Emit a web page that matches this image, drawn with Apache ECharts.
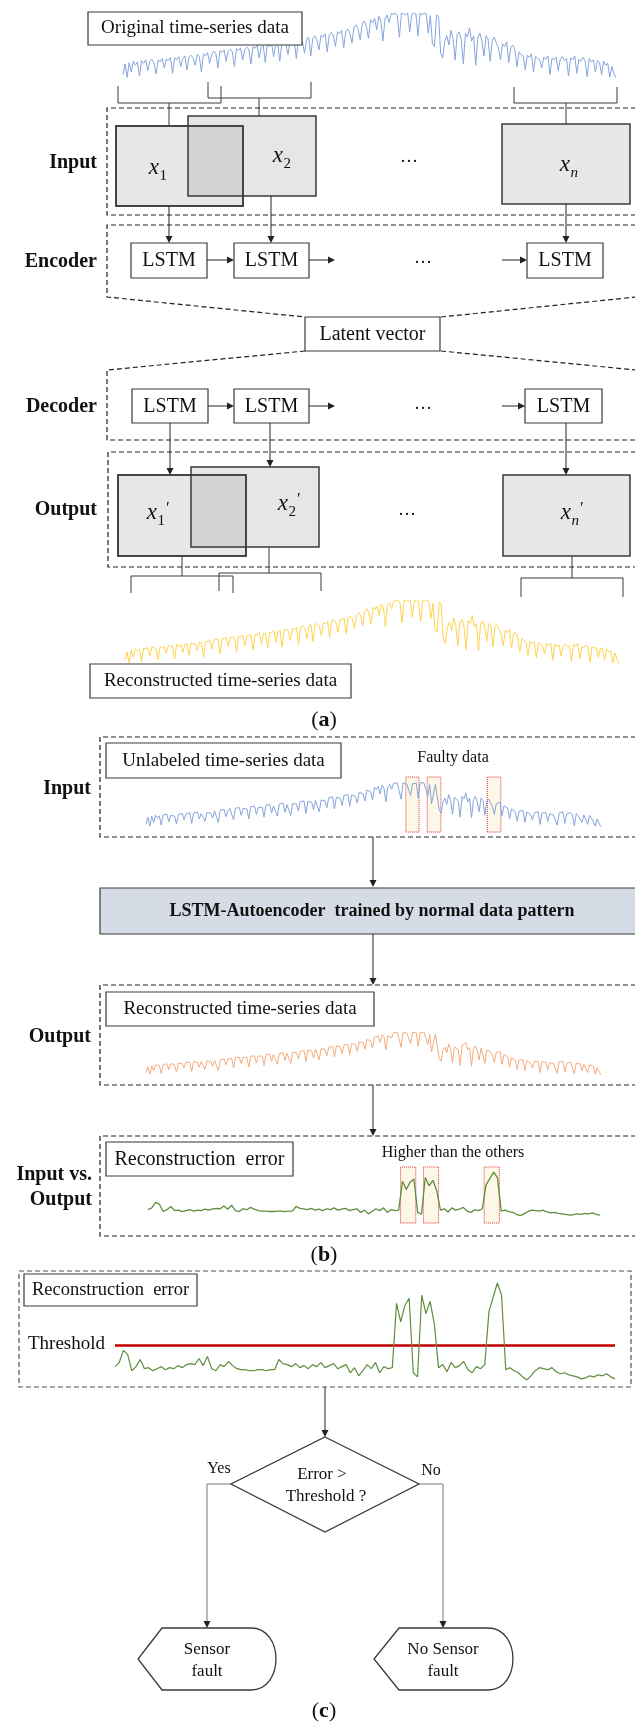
<!DOCTYPE html>
<html><head><meta charset="utf-8">
<script src="https://cdn.jsdelivr.net/npm/echarts@6/dist/echarts.min.js"></script>
<style>html,body{margin:0;padding:0;background:#fff}#c{width:635px;height:1725px}</style>
</head><body><div id="c"></div>
<script>
// ---------- DATA ----------
const signalOriginal = [
 8,24,4,26,12,28,22,27,6,29,
 25,30,14,28,31,26,9,30,27,32,
 18,31,29,34,10,33,30,35,20,32,
 36,15,34,37,33,22,38,35,12,39,
 36,41,25,38,43,40,18,44,41,45,
 28,43,46,42,20,47,44,48,30,45,
 49,46,24,50,47,52,33,49,51,26,
 53,50,55,35,52,56,28,54,57,53,
 38,58,55,60,32,59,62,57,40,61,
 64,36,62,66,60,45,67,64,69,42,
 68,71,66,50,72,69,74,48,73,76,
 70,55,79,82,76,60,84,88,80,62,
 90,85,92,75,95,88,58,91,97,86,
 99,98,100,96,64,100,99,97,100,72,
 98,100,99,66,100,97,100,99,70,96,
 54,50,97,95,40,33,58,66,52,74,
 62,30,68,72,60,24,70,64,78,58,
 66,22,63,70,58,36,66,61,28,59,
 64,55,48,30,54,50,57,26,49,52,
 44,20,42,38,36,15,37,34,39,12,
 35,32,30,18,34,31,36,8,33,30,
 34,14,31,35,29,32,6,33,30,36,
 10,31,28,34,29,5,32,27,30,12,
 29,26,8,28,22,25,4,20,10,3
];
const signalReconstructed = [
 10,22,6,25,14,27,24,26,8,28,
 27,29,16,30,29,27,11,31,28,30,
 20,33,30,32,12,34,31,33,22,34,
 35,17,36,35,34,24,37,36,14,38,
 38,40,27,40,42,41,20,43,42,44,
 30,44,45,43,22,46,45,47,32,46,
 48,47,26,49,48,51,35,50,50,28,
 52,51,54,37,53,55,30,55,56,54,
 40,57,56,59,34,60,61,58,42,62,
 63,38,63,65,61,47,66,65,68,44,
 69,70,67,52,71,70,73,50,74,75,
 72,57,78,81,77,62,83,87,81,64,
 89,86,91,77,94,89,60,92,96,87,
 98,99,100,97,66,99,100,98,99,74,
 99,100,98,68,99,98,100,98,72,95,
 56,52,96,94,42,35,60,67,54,73,
 63,32,67,71,61,26,69,65,77,60,
 65,24,64,69,59,38,65,62,30,60,
 63,56,49,32,55,51,56,28,50,51,
 45,22,43,39,37,17,38,35,38,14,
 36,33,31,20,35,32,35,10,34,31,
 33,16,32,34,30,31,8,34,31,35,
 12,30,29,33,30,7,31,28,29,14,
 28,27,10,27,23,24,6,21,12,5
];
const reconError = [
 18,22,34,30,14,18,25,16,17,14,
 16,18,15,17,16,19,17,20,21,20,
 26,19,28,16,14,20,18,23,19,16,
 15,15,14,14,15,15,14,15,15,25,
 21,20,18,21,17,19,16,20,18,22,
 17,19,21,16,18,20,12,17,9,14,
 20,16,22,12,18,16,17,80,62,78,
 85,12,8,88,70,82,60,17,20,13,
 22,17,19,23,15,12,18,16,20,72,
 86,100,88,15,17,14,12,8,5,9,
 14,17,16,15,17,13,11,12,10,9,
 8,6,7,9,8,10,9,11,8,6
];
const inputFaultRanges = [[136.5,143.4],[147.7,154.9],[179.3,186.4]];
const errorFaultRanges = [[66.5,70.5],[72.5,76.5],[88.5,92.5]];
const threshold = 39;

// ---------- HELPERS ----------
const SERIF = '"Liberation Serif","Times New Roman","DejaVu Serif",serif';
const G = [];
function txt(x, y, text, size, o) {
  o = o || {};
  G.push({type:'text', z:30, style:{x:x, y:y, text:text, fontSize:size, fontFamily:SERIF,
    fontWeight:o.bold?'bold':'normal', fontStyle:o.italic?'italic':'normal',
    fill:'#111', align:o.align||'center', verticalAlign:'middle'}});
}
function rect(x, y, w, h, fill, o) {
  o = o || {};
  G.push({type:'rect', z:o.z||20, shape:{x:x, y:y, width:w, height:h},
    style:{fill:fill, stroke:o.stroke||'#3a3a3a', lineWidth:o.lw||1.2}});
}
function poly(points, o) {
  o = o || {};
  G.push({type:'polyline', z:o.z||20, shape:{points:points},
    style:{stroke:o.color||'#3a3a3a', lineWidth:o.lw||1, lineDash:o.dash?[5,3]:null, fill:null}});
}
function head(x, y, dir, color) {
  const s = 7, w = 3.5;
  let pts;
  if (dir === 'down') pts = [[x-w,y-s],[x+w,y-s],[x,y]];
  else pts = [[x-s,y-w],[x-s,y+w],[x,y]];
  G.push({type:'polygon', z:21, shape:{points:pts}, style:{fill:color||'#222', stroke:null}});
}
function arrowDown(x, y1, y2, color) { poly([[x,y1],[x,y2-6]], {color:color||'#222', lw:1}); head(x, y2, 'down', color); }
function arrowRight(x1, x2, y) { poly([[x1,y],[x2-6,y]], {color:'#222', lw:1}); head(x2, y, 'right'); }
function mathLabel(xr, ym, sub, prime) {
  txt(xr, ym, 'x', 23, {italic:true, align:'right'});
  txt(xr+0.5, ym+8, sub, 15, {italic: sub==='n', align:'left'});
  if (prime) txt(xr+9, ym-4, '\u2032', 17, {align:'left'});
}
function xbox(x, y, w, h, fill) { rect(x, y, w, h, fill, {lw:1.5}); }
function displayShape(xl, xa, xb, xr, yt, yb) {
  const ym = (yt + yb) / 2;
  poly([[xb,yt],[xa,yt],[xl,ym],[xa,yb],[xb,yb]], {lw:1.3});
  G.push({type:'bezierCurve', z:20, shape:{x1:xb, y1:yt, x2:xb, y2:yb,
    cpx1:xb + (xr-xb)*1.33, cpy1:yt, cpx2:xb + (xr-xb)*1.33, cpy2:yb},
    style:{stroke:'#3a3a3a', lineWidth:1.3, fill:null}});
}

// ---------- SECTION (a) ----------
rect(88, 12, 214, 33, '#fff');
txt(195, 28.5, 'Original time-series data', 19);
poly([[118,86],[118,103],[221,103],[221,86]]); poly([[169,103],[169,126]]);
poly([[208,82],[208,98],[311,98],[311,82]]); poly([[259,98],[259,116]]);
poly([[514,87],[514,103],[617,103],[617,87]]); poly([[566,103],[566,124]]);
poly([[636,108],[107,108],[107,215],[636,215]], {dash:true, color:'#222', lw:1.2});
G.push({type:'rect', z:20, shape:{x:116,y:126,width:127,height:80}, style:{fill:'#e7e7e7', stroke:'#3a3a3a', lineWidth:1.5}});
G.push({type:'rect', z:20, shape:{x:188,y:116,width:128,height:80}, style:{fill:'rgba(140,140,140,0.22)', stroke:'#3a3a3a', lineWidth:1.5}});
G.push({type:'rect', z:20, shape:{x:116,y:126,width:127,height:80}, style:{fill:null, stroke:'#3a3a3a', lineWidth:1.5}});
xbox(502, 124, 128, 80, '#e7e7e7');
txt(97, 163, 'Input', 20, {bold:true, align:'right'});
mathLabel(159, 168, '1'); mathLabel(283, 156, '2'); mathLabel(570, 165, 'n');
txt(409, 157, '\u2026', 18);
arrowDown(169, 206, 243); arrowDown(271, 196, 243); arrowDown(566, 204, 243);

poly([[636,225],[107,225],[107,297],[305,317]], {dash:true, color:'#222', lw:1.2});
poly([[441,317],[636,297]], {dash:true, color:'#222', lw:1.2});
rect(131, 243, 76, 35, '#fff'); txt(169, 261, 'LSTM', 20);
rect(234, 243, 75, 35, '#fff'); txt(271.5, 261, 'LSTM', 20);
rect(527, 243, 76, 35, '#fff'); txt(565, 261, 'LSTM', 20);
arrowRight(207, 234, 260); arrowRight(309, 335, 260); arrowRight(502, 527, 260);
txt(423, 258, '\u2026', 18);
txt(97, 262, 'Encoder', 20, {bold:true, align:'right'});
rect(305, 317, 135, 34, '#fff'); txt(372.5, 334.5, 'Latent vector', 20);

poly([[305,351],[107,370],[107,440],[636,440]], {dash:true, color:'#222', lw:1.2});
poly([[441,351],[636,370]], {dash:true, color:'#222', lw:1.2});
rect(132, 389, 76, 34, '#fff'); txt(170, 406.5, 'LSTM', 20);
rect(234, 389, 75, 34, '#fff'); txt(271.5, 406.5, 'LSTM', 20);
rect(525, 389, 77, 34, '#fff'); txt(563.5, 406.5, 'LSTM', 20);
arrowRight(208, 234, 406); arrowRight(309, 335, 406); arrowRight(502, 525, 406);
txt(423, 404, '\u2026', 18);
txt(97, 407, 'Decoder', 20, {bold:true, align:'right'});
arrowDown(170, 423, 475); arrowDown(270, 423, 467); arrowDown(566, 423, 475);

poly([[636,452],[108,452],[108,567],[636,567]], {dash:true, color:'#222', lw:1.2});
G.push({type:'rect', z:20, shape:{x:118,y:475,width:128,height:81}, style:{fill:'#e7e7e7', stroke:'#3a3a3a', lineWidth:1.5}});
G.push({type:'rect', z:20, shape:{x:191,y:467,width:128,height:80}, style:{fill:'rgba(140,140,140,0.22)', stroke:'#3a3a3a', lineWidth:1.5}});
G.push({type:'rect', z:20, shape:{x:118,y:475,width:128,height:81}, style:{fill:null, stroke:'#3a3a3a', lineWidth:1.5}});
xbox(503, 475, 127, 81, '#e7e7e7');
txt(97, 510, 'Output', 20, {bold:true, align:'right'});
mathLabel(157, 513, '1', true); mathLabel(288, 504, '2', true); mathLabel(571, 513, 'n', true);
txt(407, 510, '\u2026', 18);
poly([[182,556],[182,576]]); poly([[131,593],[131,576],[233,576],[233,593]]);
poly([[269,547],[269,573]]); poly([[219,591],[219,573],[321,573],[321,591]]);
poly([[572,556],[572,578]]); poly([[521,597],[521,578],[623,578],[623,597]]);
rect(90, 664, 261, 34, '#fff'); txt(220.5, 681, 'Reconstructed time-series data', 19);
G.push({type:'text', z:30, style:{x:324, y:720, text:'{n|(}{b|a}{n|)}', align:'center', verticalAlign:'middle',
  rich:{n:{fontSize:22, fontFamily:SERIF, fill:'#111'}, b:{fontSize:22, fontFamily:SERIF, fontWeight:'bold', fill:'#111'}}}});

// ---------- SECTION (b) ----------
poly([[636,737],[100,737],[100,837],[636,837]], {dash:true, color:'#222', lw:1.2});
rect(106, 743, 235, 35, '#fff'); txt(223.5, 761, 'Unlabeled time-series data', 19);
txt(91, 789, 'Input', 20, {bold:true, align:'right'});
txt(453, 758, 'Faulty data', 16);
arrowDown(373, 837, 887);
rect(100, 888, 540, 46, '#d6dce5'); txt(372, 911.5, 'LSTM-Autoencoder  trained by normal data pattern', 18, {bold:true});
arrowDown(373, 934, 985);
poly([[636,985],[100,985],[100,1085],[636,1085]], {dash:true, color:'#222', lw:1.2});
rect(106, 992, 268, 34, '#fff'); txt(240, 1009.5, 'Reconstructed time-series data', 19);
txt(91, 1037, 'Output', 20, {bold:true, align:'right'});
arrowDown(373, 1085, 1136);
poly([[636,1136],[100,1136],[100,1236],[636,1236]], {dash:true, color:'#222', lw:1.2});
rect(106, 1142, 187, 34, '#fff'); txt(199.5, 1159.5, 'Reconstruction  error', 20);
txt(453, 1153, 'Higher than the others', 16);
txt(92, 1175, 'Input vs.', 20, {bold:true, align:'right'});
txt(92, 1200, 'Output', 20, {bold:true, align:'right'});
G.push({type:'text', z:30, style:{x:324, y:1255, text:'{n|(}{b|b}{n|)}', align:'center', verticalAlign:'middle',
  rich:{n:{fontSize:22, fontFamily:SERIF, fill:'#111'}, b:{fontSize:22, fontFamily:SERIF, fontWeight:'bold', fill:'#111'}}}});

// ---------- SECTION (c) ----------
poly([[19,1271],[631,1271],[631,1387],[19,1387],[19,1271]], {dash:true, color:'#555', lw:1.2});
rect(24, 1274, 173, 32, '#fff'); txt(110.5, 1290.5, 'Reconstruction  error', 18.5);
txt(28, 1344, 'Threshold', 19, {align:'left'});
arrowDown(325, 1387, 1437);
G.push({type:'polygon', z:20, shape:{points:[[325,1437],[419,1484],[325,1532],[231,1484]]}, style:{fill:'#fff', stroke:'#3a3a3a', lineWidth:1.3}});
txt(322, 1475, 'Error >', 17); txt(326, 1497, 'Threshold ?', 17);
txt(219, 1469, 'Yes', 16); txt(431, 1471, 'No', 16);
poly([[231,1484],[207,1484],[207,1622]], {color:'#777', lw:1}); head(207, 1628, 'down');
poly([[419,1484],[443,1484],[443,1622]], {color:'#777', lw:1}); head(443, 1628, 'down');
displayShape(138, 162, 251, 276, 1628, 1690);
displayShape(374, 399, 488, 513, 1628, 1690);
txt(207, 1650, 'Sensor', 17); txt(207, 1672, 'fault', 17);
txt(443, 1650, 'No Sensor', 17); txt(443, 1672, 'fault', 17);
G.push({type:'text', z:30, style:{x:324, y:1711, text:'{n|(}{b|c}{n|)}', align:'center', verticalAlign:'middle',
  rich:{n:{fontSize:22, fontFamily:SERIF, fill:'#111'}, b:{fontSize:22, fontFamily:SERIF, fontWeight:'bold', fill:'#111'}}}});

// ---------- CHART GRIDS ----------
const grids = [
  {left:123, top:13,   width:493, height:67},
  {left:125, top:600,  width:494, height:67},
  {left:146, top:777,  width:455, height:55},
  {left:146, top:1032, width:455, height:45},
  {left:148, top:1167, width:452, height:56},
  {left:115, top:1283, width:500, height:102}
];
const yRanges = [[0,100],[0,100],[-9,113],[0,100],[-11,111],[0,100]];
const xMax = [signalOriginal.length-1, signalReconstructed.length-1, signalOriginal.length-1,
              signalReconstructed.length-1, reconError.length-1, reconError.length-1];
const pairs = arr => arr.map((v, i) => [i, v]);
const faultArea = ranges => ({
  silent:true,
  itemStyle:{color:'rgba(253,246,228,0.85)', borderColor:'#e0342c', borderWidth:1, borderType:'dotted'},
  data: ranges.map(r => [{xAxis:r[0]}, {xAxis:r[1]}])
});
const lineS = (idx, data, color, w, extra) => Object.assign({
  type:'line', xAxisIndex:idx, yAxisIndex:idx, data:pairs(data), showSymbol:false, symbol:'none',
  lineStyle:{color:color, width:w}, itemStyle:{color:color}, silent:true, z:5
}, extra || {});

const option = {
  animation:false,
  backgroundColor:'#fff',
  grid: grids.map(g => Object.assign({containLabel:false}, g)),
  xAxis: grids.map((g, i) => ({type:'value', gridIndex:i, min:0, max:xMax[i], show:false})),
  yAxis: grids.map((g, i) => ({type:'value', gridIndex:i, min:yRanges[i][0], max:yRanges[i][1], show:false})),
  series: [
    lineS(0, signalOriginal, '#86a5dc', 1),
    lineS(1, signalReconstructed, '#ffd34e', 1),
    lineS(2, signalOriginal, '#86a5dc', 1, {markArea: faultArea(inputFaultRanges)}),
    lineS(3, signalReconstructed, '#f4ac7c', 1),
    lineS(4, reconError, '#5d8d3d', 1.3, {markArea: faultArea(errorFaultRanges)}),
    lineS(5, reconError, '#5d8d3d', 1.2, {markLine:{silent:true, symbol:'none', label:{show:false},
      lineStyle:{color:'#c00000', width:2.5, type:'solid'}, data:[{yAxis:threshold}]}})
  ],
  graphic: G
};
const chart = echarts.init(document.getElementById('c'), null, {renderer:'canvas'});
chart.setOption(option);
</script>
</body></html>
